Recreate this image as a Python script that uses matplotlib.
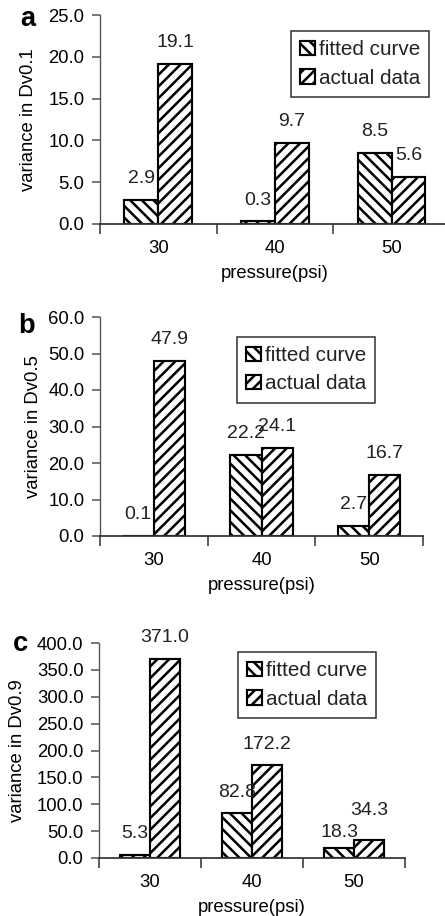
import matplotlib
matplotlib.use('Agg')
import matplotlib.pyplot as plt
import numpy as np

# data
pressures = ['30', '40', '50']
fitted_a = [2.9, 0.3, 8.5]
actual_a = [19.1, 9.7, 5.6]
fitted_b = [0.1, 22.2, 2.7]
actual_b = [47.9, 24.1, 16.7]
fitted_c = [5.3, 82.8, 18.3]
actual_c = [371.0, 172.2, 34.3]
ylabels = ['variance in Dv0.1', 'variance in Dv0.5', 'variance in Dv0.9']
letters = ['a', 'b', 'c']
ymax = [25, 60, 400]
ystep = [5, 10, 50]

plt.rcParams['font.family'] = ['Liberation Sans', 'DejaVu Sans']
plt.rcParams['font.size'] = 9.5
plt.rcParams['hatch.linewidth'] = 1.3
plt.rcParams['text.color'] = '#222222'

DPI = 140
W, H = 445, 916
fig = plt.figure(figsize=(W / DPI, H / DPI), dpi=DPI)

# pixel boxes of the three panels: left, right, top, bottom
boxes = [(100, 450, 15, 224), (100, 423, 317, 536), (99, 405, 643, 858)]
ylab_x = [-0.203, -0.207, -0.265]
letter_pos = [(28, 26), (27, 333), (20, 651)]
legend_pos = [(0.546, 0.923), (0.424, 0.909), (0.454, 0.958)]
# extra vertical nudges (points) for a few value labels, as in the original
nudge = {(2, 0, 2): -3, (2, 1, 2): 4}

series = [(fitted_a, actual_a), (fitted_b, actual_b), (fitted_c, actual_c)]
x = np.arange(len(pressures))
w = 0.29

for i, (fitted, actual) in enumerate(series):
    l, r, t, b = boxes[i]
    ax = fig.add_axes([l / W, 1 - b / H, (r - l) / W, (b - t) / H])
    ax.bar(x - w / 2, fitted, w, facecolor='white', edgecolor='black',
           linewidth=1.1, hatch='\\\\\\\\', label='fitted curve')
    ax.bar(x + w / 2, actual, w, facecolor='white', edgecolor='black',
           linewidth=1.1, hatch='////', label='actual data')
    for k, (xs, vals) in enumerate(((x - w / 2, fitted), (x + w / 2, actual))):
        for j, (xv, v) in enumerate(zip(xs, vals)):
            dy = 11 + nudge.get((i, k, j), 0)
            ax.annotate('%.1f' % v, (xv, v), xytext=(0, dy),
                        textcoords='offset points', ha='center', va='center',
                        fontsize=10)

    ax.set_xlim(-0.5, 2.5)
    ax.set_ylim(0, ymax[i])
    ticks = np.arange(0, ymax[i] + 1, ystep[i])
    ax.set_yticks(ticks)
    ax.set_yticklabels(['%.1f' % v for v in ticks])
    ax.set_xticks([-0.5, 0.5, 1.5, 2.5])
    ax.set_xticklabels([])
    ax.set_xticks(x, minor=True)
    ax.set_xticklabels(pressures, minor=True)
    ax.tick_params(axis='x', which='major', length=5, width=0.8, color='#333333')
    ax.tick_params(axis='x', which='minor', length=0, pad=8)
    ax.tick_params(axis='y', length=4, width=0.8, color='#555555', pad=4)
    for s in ['top', 'right']:
        ax.spines[s].set_visible(False)
    ax.spines['left'].set_color('#555555')
    ax.spines['left'].set_linewidth(0.7)
    ax.spines['bottom'].set_color('#333333')
    ax.spines['bottom'].set_linewidth(0.9)

    ax.set_xlabel('pressure(psi)', labelpad=4.5)
    ax.set_ylabel(ylabels[i], va='center')
    ax.yaxis.set_label_coords(ylab_x[i], 0.5)

    leg = ax.legend(loc='upper left', bbox_to_anchor=legend_pos[i],
                    borderaxespad=0, fancybox=False, framealpha=1,
                    edgecolor='#333333', handlelength=0.7, handleheight=0.7,
                    handletextpad=0.2, labelspacing=0.45, fontsize=10.6,
                    borderpad=0.45)
    leg.get_frame().set_linewidth(0.8)

    lx, ly = letter_pos[i]
    fig.text(lx / W, 1 - ly / H, letters[i], fontsize=14, fontweight='bold',
             ha='center', va='baseline', color='black')

fig.savefig('out.png', dpi=DPI)
